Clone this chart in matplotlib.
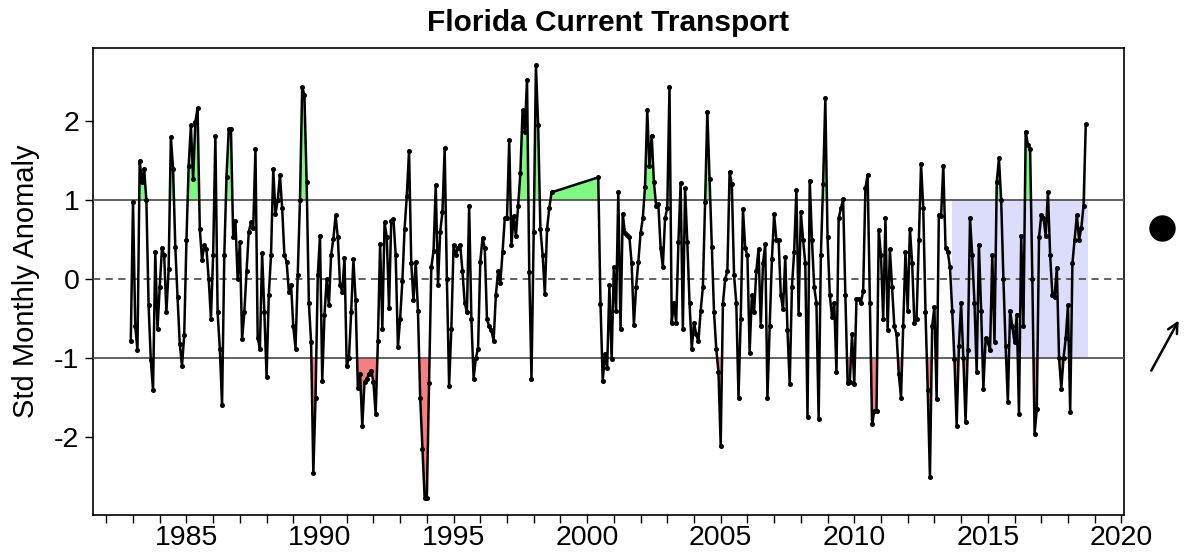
import numpy as np
import matplotlib
matplotlib.use('Agg')
import matplotlib.pyplot as plt
from matplotlib.lines import Line2D

plt.rcParams['font.family'] = ['Liberation Sans', 'DejaVu Sans']

# monthly standardized anomalies, first block starts Dec 1982
seg1_start = (1982, 12)
seg1 = [
    -0.78, 0.98, -0.6, -0.9, 1.5, 1.23, 1.4, 1.0, -0.33, -1.03,
    -1.41, 0.34, -0.63, -0.1, 0.39, 0.3, -0.42, 0.13, 1.8, 1.4,
    0.41, -0.23, -0.82, -1.1, -0.71, 0.49, 1.44, 1.95, 1.27, 1.99,
    2.17, 0.64, 0.24, 0.43, 0.38, 0.0, -0.5, 0.31, 1.81, -0.42,
    -0.88, -1.6, 0.3, 1.3, 1.9, 1.9, 0.53, 0.74, 0.0, 0.47,
    -0.76, -0.42, 0.1, 0.6, 0.72, 0.65, 1.65, -0.74, -0.88, 0.33,
    -0.42, -1.24, -0.2, 0.31, 1.39, 0.83, 1.0, 1.32, 0.9, 0.31,
    0.22, -0.16, -0.07, -0.6, -0.88, 0.05, 1.0, 2.44, 2.33, 1.23,
    -0.3, -0.8, -2.46, -1.5, 0.05, 0.55, -1.29, -0.46, 0.0, -0.33,
    0.31, 0.51, 0.81, 0.53, -0.07, -0.16, 0.27, -1.1, -1.0, -0.42,
    0.25, -0.27, -1.38, -1.2, -1.86, -1.3, -1.26, -1.2, -1.16, -1.3,
    -1.71, -0.79, 0.45, -0.63, 0.72, 0.53, -0.36, 0.74, 0.76, 0.3,
    -0.86, -0.5, -0.02, 0.64, 1.06, 1.63, 0.2, -0.27, 0.22, -0.4,
    -1.5, -2.15, -2.77, -2.77, -1.31, 0.15, 0.36, 1.19, -0.08, 0.6,
    0.85, 1.66, 0.0, -1.35, -0.63, 0.43, 0.3, 0.4, 0.43, 0.1,
    -0.3, -0.42, 0.93, -0.5, -1.26, -1.0, -0.88, 0.22, 0.52, 0.4,
    -0.5, -0.6, -0.65, -0.78, -0.2, 0.1, -0.05, 0.34, 0.77, 0.77,
    1.76, 0.43, 0.8, 0.55, 0.93, 1.34, 2.14, 1.87, 2.53, 0.09,
    -1.26, 0.6, 2.71, 1.95, 0.64, 0.31, -0.19, 0.64, 0.9, 1.1,
]

# second block after the data gap, starts Jun 2000
seg2_start = (2000, 6)
seg2 = [
    1.29, -0.31, -1.29, -0.95, -1.12, -0.08, -1.01, 0.15, -0.4, 1.1,
    -0.63, 0.83, 0.58, 0.56, 0.53, 0.2, -0.58, -0.1, 0.22, 0.58,
    0.77, 1.17, 2.14, 1.44, 1.82, 1.23, 0.93, 0.95, 0.4, 0.15,
    0.77, 0.9, 2.44, -0.55, -0.3, -0.55, 0.47, 1.22, -0.63, 1.15,
    0.47, -0.3, -0.88, -0.55, -0.7, -0.79, -0.4, -0.1, 0.98, 2.12,
    1.27, 0.41, -0.42, -0.88, -1.18, -2.11, -0.31, 0.0, 0.1, 1.36,
    1.2, 0.05, -0.3, -1.5, -0.5, 0.89, 0.4, 0.3, -0.93, -0.2,
    -0.42, 0.1, 0.38, -0.59, 0.2, 0.44, -1.51, -0.6, 0.25, 0.82,
    0.5, 0.5, -0.2, -0.38, 0.28, -0.65, -1.33, -0.1, 0.35, 1.13,
    -0.44, 0.85, 0.5, 0.2, -1.75, 1.25, 0.5, -0.1, -0.3, -1.77,
    0.3, 1.21, 2.29, 0.53, -0.2, -0.48, -0.3, -1.18, 0.77, 0.9,
    1.01, -0.2, -1.31, -1.3, -0.7, -1.33, -0.25, -0.25, -0.3, -0.15,
    1.15, 1.32, -0.3, -1.84, -1.67, -1.67, 0.62, 0.3, -0.5, 0.77,
    -0.65, 0.38, -0.1, -0.6, -0.7, -1.2, -1.5, -0.6, 0.34, -0.4,
    0.64, 0.2, -0.55, -0.5, 0.5, 1.46, 0.9, -0.42, -1.4, -2.51,
    -0.6, -0.35, -1.52, 0.81, 0.8, 1.44, 0.4, 0.35, 0.15, -0.4,
    -1.01, -1.86, -0.85, -0.3, -1.0, -1.81, -0.9, 0.77, 0.3, -0.3,
    -1.18, 0.43, -0.4, -1.39, -0.75, -0.8, -0.9, 0.3, -0.8, 1.23,
    1.53, 1.0, 0.0, -0.85, -1.56, -0.4, -0.6, -0.8, -0.45, -1.71,
    0.55, -0.6, 1.87, 1.7, 1.65, 0.0, -1.96, -1.65, 0.53, 0.81,
    0.78, 0.55, 1.1, 0.3, -0.2, -0.22, 0.14, -1.0, -1.39, -1.0,
    -0.75, -0.33, -1.68, 0.2, 0.5, 0.81, 0.5, 0.65, 0.93, 1.96,
]

shade_years = 5  # last five years highlighted

def dec_years(start, n):
    return start[0] + (start[1] - 1) / 12 + np.arange(n) / 12

t = np.concatenate([dec_years(seg1_start, len(seg1)), dec_years(seg2_start, len(seg2))])
v = np.array(seg1 + seg2)

fig = plt.figure(figsize=(11.84, 5.52), dpi=100)
ax = fig.add_axes([0.0782, 0.067, 0.8711, 0.846])

span = t[-1] - t[0]
ax.set_xlim(t[0] - 0.04 * span, t[-1] + 0.04 * span)
vspan = v.max() - v.min()
ax.set_ylim(v.min() - 0.04 * vspan, v.max() + 0.04 * vspan)

ax.fill_between([t[-1] - shade_years, t[-1] + 1 / 12], -1, 1, color='#dcdcfb', lw=0, zorder=1)
ax.fill_between(t, v, 1, where=v > 1, interpolate=True, color='#7ff87f', lw=0, zorder=2)
ax.fill_between(t, v, -1, where=v < -1, interpolate=True, color='#f87f7f', lw=0, zorder=2)

ax.axhline(1, color='#555555', lw=1.3, zorder=3)
ax.axhline(-1, color='#555555', lw=1.3, zorder=3)
ax.axhline(0, color='#555555', lw=1.3, ls=(0, (4, 3)), zorder=3)

ax.plot(t, v, color='black', lw=1.8, marker='o', ms=2.6, zorder=4)

years = np.arange(1982, 2021)
ax.set_xticks(years)
ax.set_xticklabels([str(y) if y % 5 == 0 else '' for y in years])
ax.set_yticks([-2, -1, 0, 1, 2])
ax.set_yticklabels(['-2', '-1', '0', '1', '2'])
ax.tick_params(axis='both', direction='out', length=5.5, width=1, labelsize=20.5, colors='black')
ax.tick_params(axis='x', pad=2)
ax.tick_params(axis='y', pad=4)
for s in ax.spines.values():
    s.set_linewidth(1.2)

ax.set_ylabel('Std Monthly Anomaly', fontsize=21, labelpad=10)
ax.set_title('Florida Current Transport', fontsize=21.5, fontweight='bold', pad=12)

# markers outside the plot on the right
fig.add_artist(Line2D([1162 / 1184], [1 - 228 / 552], marker='o', ms=18, color='black',
                      transform=fig.transFigure))
ax.annotate('', xy=(1180, 552 - 318), xytext=(1150, 552 - 373), xycoords='figure pixels',
            textcoords='figure pixels',
            arrowprops=dict(arrowstyle='->', color='black', lw=1.8, mutation_scale=18))

fig.savefig('out.png', dpi=100)
